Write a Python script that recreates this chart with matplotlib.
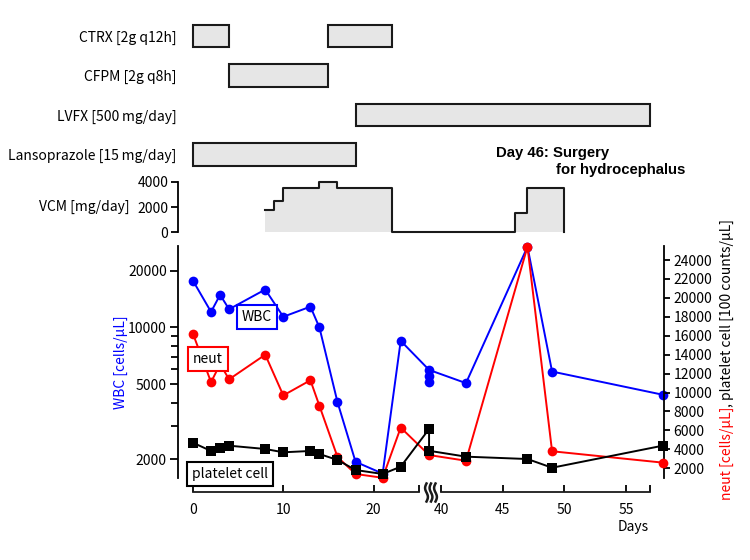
import numpy as np
import matplotlib
matplotlib.use('Agg')
import matplotlib.pyplot as plt
from matplotlib.lines import Line2D
from matplotlib.ticker import FixedLocator, NullFormatter
from matplotlib.transforms import blended_transform_factory, ScaledTranslation

plt.rcParams['font.family'] = ['Noto Sans CJK JP', 'DejaVu Sans']
plt.rcParams['font.size'] = 10

# ---- data ----
drug_labels = ['CTRX [2g q12h]', 'CFPM [2g q8h]', 'LVFX [500\u2009mg/day]', 'Lansoprazole [15\u2009mg/day]']
drug_row = [0, 0, 1, 2, 3]
drug_start = [0, 15, 4, 18, 0]
drug_end = [4, 22, 15, 57, 18]

vcm_days = [8, 9, 10, 14, 16, 22, 46, 47, 50]
vcm_dose = [1750, 2500, 3500, 4000, 3500, 0, 1500, 3500, 0]

wbc_days = [0, 2, 3, 4, 8, 10, 13, 14, 16, 18, 21, 23, 39, 42, 47, 49, 58]
wbc = [17700, 12100, 14900, 12500, 15900, 11400, 12900, 10000, 4020, 1940, 1680, 8500, 5960, 5070, 26800, 5840, 4400]
wbc_extra_days = [39, 39]
wbc_extra = [5500, 5170]

neut_days = [0, 2, 3, 4, 8, 10, 13, 14, 16, 18, 21, 23, 39, 42, 47, 49, 58]
neut = [16200, 11100, 13000, 11400, 14000, 9700, 11300, 8600, 3200, 1400, 1000, 6300, 3400, 2800, 25400, 3800, 2600]

plt_days = [0, 2, 3, 4, 8, 10, 13, 14, 16, 18, 21, 23, 39, 39, 42, 47, 49, 58]
plt_cnt = [4700, 3830, 4180, 4390, 4040, 3690, 3830, 3510, 2880, 1820, 1400, 2170, 6150, 3850, 3230, 2980, 2060, 4390]

xticks = [0, 10, 20, 25, 40, 45, 50, 55, 57]
xticklabels = ['0', '10', '20', '', '40', '45', '50', '55', '']

# broken day axis: days 25..38 squeezed out, later days drawn wider
day_bp = [-10, 25, 38.2, 80]
u_bp = [-10, 25, 25.05, 27.5 + 1.362 * 40]
def fwd(d):
    return np.interp(d, day_bp, u_bp)
def inv(u):
    return np.interp(u, u_bp, day_bp)
XLIM = (-1.66, 58.1)

W, H = 750, 560
def px_rect(l, t, r, b):
    return [l / W, 1 - b / H, (r - l) / W, (b - t) / H]

fig = plt.figure(figsize=(7.5, 5.6), dpi=100)
ax_bar = fig.add_axes(px_rect(178, 16.25, 664, 174.25))
ax_vcm = fig.add_axes(px_rect(178, 181.7, 664, 232.3))
ax = fig.add_axes(px_rect(178, 246, 664, 478))
ax2 = ax.twinx()

for a in (ax_bar, ax_vcm, ax, ax2):
    a.set_xscale('function', functions=(fwd, inv))

edge = '#1a1a1a'
fill = '#e6e6e6'

# ---- drug bars ----
ax_bar.barh(drug_row, np.array(drug_end) - np.array(drug_start), left=drug_start,
            height=0.56, color=fill, edgecolor=edge, linewidth=1.5)
ax_bar.set_yticks(range(len(drug_labels)))
ax_bar.set_yticklabels(drug_labels)
ax_bar.set_ylim(3.5, -0.5)
ax_bar.tick_params(axis='y', length=0, pad=1)
ax_bar.xaxis.set_visible(False)
for s in ax_bar.spines.values():
    s.set_visible(False)
ax_bar.patch.set_alpha(0)

# ---- VCM ----
ax_vcm.fill_between(vcm_days, vcm_dose, step='post', color=fill, linewidth=0, clip_on=False)
ax_vcm.step(vcm_days, vcm_dose, where='post', color=edge, linewidth=1.5, clip_on=False)
ax_vcm.set_ylim(0, 4000)
ax_vcm.set_yticks([0, 2000, 4000])
ax_vcm.xaxis.set_visible(False)
for k in ('top', 'right', 'bottom'):
    ax_vcm.spines[k].set_visible(False)
ax_vcm.spines['left'].set_linewidth(1.3)
ax_vcm.tick_params(axis='y', length=5, width=1.3, pad=2)
ax_vcm.patch.set_alpha(0)
fig.text(130 / W, 1 - 207 / H, 'VCM [mg/day]', ha='right', va='center')

# ---- lab values ----
ax.plot(wbc_days, wbc, color='blue', marker='o', ms=7, mew=0, lw=1.4, clip_on=False, zorder=2)
ax.plot(wbc_extra_days, wbc_extra, color='blue', marker='o', ms=7, mew=0, ls='none', clip_on=False, zorder=2)
ax.set_yscale('log')
ax.set_ylim(1592, 27050)
ax.yaxis.set_major_locator(FixedLocator([2000, 5000, 10000, 20000]))
ax.set_yticklabels(['2000', '5000', '10000', '20000'])
ax.yaxis.set_minor_locator(FixedLocator([3000, 4000, 6000, 7000, 8000, 9000]))
ax.yaxis.set_minor_formatter(NullFormatter())
ax.tick_params(axis='y', which='major', length=6, width=1.3, pad=2)
ax.tick_params(axis='y', which='minor', length=5, width=1.3)
ax.set_ylabel('WBC [cells/µL]', color='blue', labelpad=0)

ax2.plot(neut_days, neut, color='red', marker='o', ms=7, mew=0, lw=1.4, clip_on=False, zorder=3)
ax2.plot(plt_days, plt_cnt, color='black', marker='s', ms=6.5, mew=0, lw=1.4, clip_on=False, zorder=4)
ax2.set_ylim(976, 25480)
ax2.set_yticks(range(2000, 24001, 2000))
ax2.tick_params(axis='y', length=4, width=1.3, pad=3)

for k in ('top', 'bottom', 'right'):
    ax.spines[k].set_visible(False)
for k in ('top', 'bottom', 'left'):
    ax2.spines[k].set_visible(False)
ax.spines['left'].set_linewidth(1.3)
ax2.spines['right'].set_linewidth(1.3)

# broken x axis below the plot
ax.spines['bottom'].set_position(('outward', 10))
ax.set_xticks(xticks)
ax.set_xticklabels(xticklabels)
ax.tick_params(axis='x', direction='in', length=5, width=1.3, pad=8)
for a in (ax_bar, ax_vcm, ax, ax2):
    a.set_xlim(*XLIM)
trans = blended_transform_factory(ax.transData, ax.transAxes) + \
    ScaledTranslation(0, -10 / 72, fig.dpi_scale_trans)
for seg in ([0, 25], [40, 57]):
    ax.add_line(Line2D(seg, [0, 0], transform=trans, color=edge, lw=1.3, clip_on=False))
t = np.linspace(-1, 1, 60)
for i in range(3):
    xs = 426.5 + i * 4.5 + 1.4 * np.sin(np.pi * t)
    ys = 492.5 + 9 * t
    fig.add_artist(Line2D(xs / W, 1 - ys / H, color=edge, lw=1.8))
ax.set_xlim(*XLIM)
fig.text(649 / W, 1 - 527 / H, 'Days', ha='right', va='center')

# right label in two colours
fig.text(731 / W, 1 - 407 / H, 'neut [cells/µL]', color='red', rotation=90,
         rotation_mode='anchor', ha='right', va='baseline')
fig.text(731 / W, 1 - 407 / H, ', platelet cell [100 counts/µL]', color='black', rotation=90,
         rotation_mode='anchor', ha='left', va='baseline')

# legend boxes
box = dict(boxstyle='square,pad=0.35', fc='white', lw=1.5)
fig.text(256.7 / W, 1 - 316.7 / H, 'WBC', ha='center', va='center', bbox=dict(box, ec='blue'))
fig.text(208 / W, 1 - 358.7 / H, 'neut', ha='center', va='center', bbox=dict(box, ec='red'))
fig.text(230 / W, 1 - 474 / H, 'platelet cell', ha='center', va='center', bbox=dict(box, ec='black'))

fig.text(496 / W, 1 - 156.7 / H, 'Day 46: Surgery', family='Liberation Sans',
         weight='bold', fontsize=10.7, va='baseline')
fig.text(556 / W, 1 - 173.7 / H, 'for hydrocephalus', family='Liberation Sans',
         weight='bold', fontsize=10.7, va='baseline')

fig.savefig('out.png', dpi=100)
